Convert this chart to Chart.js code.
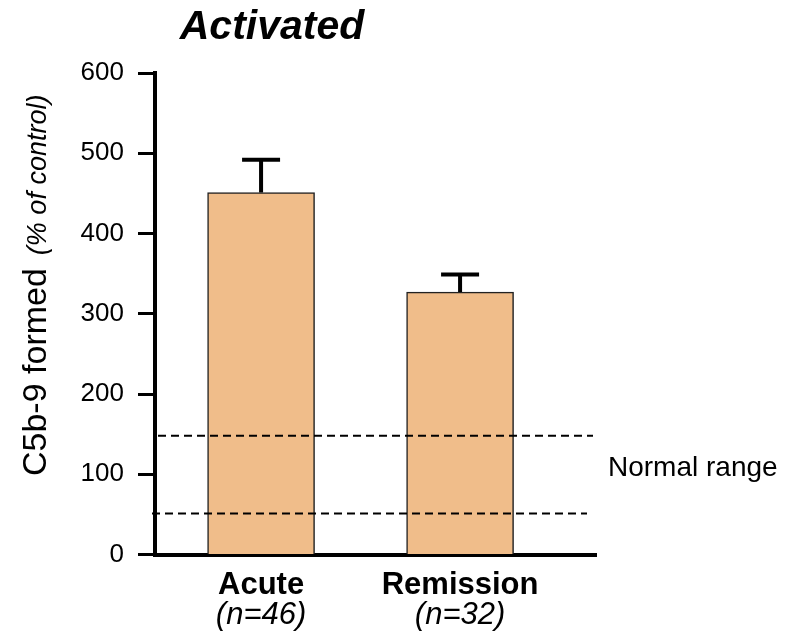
<!DOCTYPE html>
<html>
<head>
<meta charset="utf-8">
<script src="https://cdn.jsdelivr.net/npm/chart.js"></script>
<style>
  html, body { margin: 0; padding: 0; background: #fff; }
  #wrap { width: 791px; height: 639px; }
</style>
</head>
<body>
<div id="wrap"><canvas id="c" width="791" height="639"></canvas></div>
<script>
// --- Datos ---
const groups = ["Acute", "Remission"];
const groupN = ["(n=46)", "(n=32)"];
const groupPos = [1, 2];
const means = [451, 327];
const errUp = [41, 22];
const normalRange = [51, 148];
const yTicks = [0, 100, 200, 300, 400, 500, 600];

const FONT = "'Liberation Sans', Arial, sans-serif";

// barras de error, rango normal y textos
const extrasPlugin = {
    id: "extras",
    afterDatasetsDraw(chart) {
        const ctx = chart.ctx;
        const xs = chart.scales.x;
        const ys = chart.scales.y;
        const area = chart.chartArea;
        ctx.save();

        // error bars
        ctx.strokeStyle = "#000";
        ctx.lineWidth = 4;
        groupPos.forEach((p, i) => {
            const x = xs.getPixelForValue(p);
            const y0 = ys.getPixelForValue(means[i]);
            const y1 = ys.getPixelForValue(means[i] + errUp[i]);
            ctx.beginPath();
            ctx.moveTo(x, y0);
            ctx.lineTo(x, y1);
            ctx.moveTo(x - 19, y1);
            ctx.lineTo(x + 19, y1);
            ctx.stroke();
        });

        // normal range dashed lines
        ctx.lineWidth = 2;
        ctx.strokeStyle = "#000";
        ctx.setLineDash([8, 5]);
        const yHi = ys.getPixelForValue(normalRange[1]);
        const yLo = ys.getPixelForValue(normalRange[0]);
        ctx.beginPath();
        ctx.moveTo(area.left + 3, yHi);
        ctx.lineTo(area.right - 3, yHi);
        ctx.moveTo(area.left - 3, yLo);
        ctx.lineTo(area.right - 9, yLo);
        ctx.stroke();
        ctx.setLineDash([]);

        ctx.fillStyle = "#000";
        ctx.textBaseline = "middle";
        ctx.textAlign = "left";
        ctx.font = "28px " + FONT;
        ctx.fillText("Normal range", area.right + 12, 468);

        // x labels
        ctx.textBaseline = "alphabetic";
        ctx.textAlign = "center";
        groupPos.forEach((p, i) => {
            const x = xs.getPixelForValue(p);
            ctx.font = "bold 31px " + FONT;
            ctx.fillText(groups[i], x, 594);
            ctx.font = "italic 31px " + FONT;
            ctx.fillText(groupN[i], x, 624);
        });

        // title
        ctx.font = "bold italic 41px " + FONT;
        ctx.fillText("Activated", 272, 39);

        // y title (dos fuentes)
        const partA = "C5b-9 formed";
        const partB = "(% of control)";
        const fA = "34px " + FONT;
        const fB = "italic 27px " + FONT;
        ctx.font = fA;
        const wA = ctx.measureText(partA).width;
        ctx.translate(46, 0);
        ctx.rotate(-Math.PI / 2);
        ctx.textAlign = "left";
        ctx.fillText(partA, -476, 0);
        ctx.font = fB;
        ctx.fillText(partB, -476 + wA + 13, 0);
        ctx.restore();
    },
};

new Chart(document.getElementById("c"), {
    type: "bar",
    data: {
        datasets: [{
            data: groupPos.map((p, i) => ({ x: p, y: means[i] })),
            backgroundColor: "#F0BD8A",
            borderColor: "#222",
            borderWidth: 1.5,
            barThickness: 107,
        }],
    },
    options: {
        responsive: false,
        animation: false,
        layout: { padding: { top: 73, right: 195, bottom: 0, left: 0 } },
        plugins: { legend: { display: false }, tooltip: { enabled: false } },
        scales: {
            x: {
                type: "linear",
                offset: false,
                min: 0.467,
                max: 2.683,
                ticks: { display: false },
                grid: { display: false },
                border: { display: true, color: "#000", width: 4 },
                afterFit: (s) => { s.height = 84.5; },
            },
            y: {
                min: 0,
                max: 600,
                afterBuildTicks: (s) => { s.ticks = yTicks.map((v) => ({ value: v })); },
                ticks: { color: "#000", font: { family: FONT, size: 26 }, padding: 14 },
                grid: { drawOnChartArea: false, drawTicks: true, tickLength: 17, tickWidth: 3, tickColor: "#000" },
                border: { display: true, color: "#000", width: 4 },
                afterFit: (s) => { s.width = 155; },
            },
        },
    },
    plugins: [extrasPlugin],
});
</script>
</body>
</html>
